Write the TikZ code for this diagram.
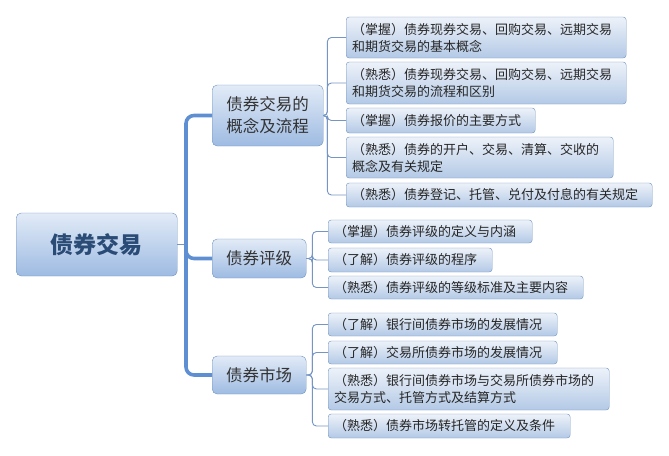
\documentclass[tikz,border=0pt]{standalone}
\usepackage{fontspec}
\setmainfont{Noto Sans CJK SC}
\usepackage{tikz}
\definecolor{boxline}{HTML}{6F92C0}
\definecolor{lighttop}{HTML}{EDF2F9}
\definecolor{lightbot}{HTML}{B3C9E6}
\definecolor{midtop}{HTML}{E2EBF7}
\definecolor{midbot}{HTML}{9EBBE2}
\definecolor{linecol}{HTML}{7596C4}
\definecolor{trunkcol}{HTML}{5E8FD2}
\definecolor{roottext}{HTML}{2A4B75}

\begin{document}
\begin{tikzpicture}[x=1pt,y=1pt,
  leaf/.style={draw=boxline, rounded corners=3pt, top color=lighttop, bottom color=lightbot,
    anchor=west, inner xsep=6pt, inner ysep=0pt, align=left, font=\fontsize{13}{17}\selectfont,
    text=black!85},
  topic/.style={draw=boxline, rounded corners=5pt, top color=midtop, bottom color=midbot,
    anchor=west, inner sep=0pt, align=center, font=\fontsize{16.5}{22}\selectfont, text=black!80},
  conn/.style={draw=linecol, line width=0.9pt, rounded corners=4pt},
  trunk/.style={draw=trunkcol, line width=3.6pt, rounded corners=8pt}]
\useasboundingbox (0,0) rectangle (669,-455);

\node[topic, minimum width=161pt, minimum height=63pt, font=\fontsize{23}{26}\selectfont\bfseries,
  text=roottext] (root) at (16,-244.5) {债券交易};

\node[topic, minimum width=111pt, minimum height=61pt] (gainian) at (212,-115.5) {债券交易的\\概念及流程};
\node[topic, minimum width=94pt, minimum height=39pt] (pingji) at (212,-258.5) {债券评级};
\node[topic, minimum width=94pt, minimum height=38pt] (shichang) at (212,-375) {债券市场};

\node[leaf, text width=268pt, minimum height=41pt] (ga) at (346,-37.5) {（掌握）债券现券交易、回购交易、远期交易\\和期货交易的基本概念};
\node[leaf, text width=268pt, minimum height=42pt] (gb) at (346,-83) {（熟悉）债券现券交易、回购交易、远期交易\\和期货交易的流程和区别};
\node[leaf, text width=177pt, minimum height=25pt] (gc) at (346,-120.5) {（掌握）债券报价的主要方式};
\node[leaf, text width=255pt, minimum height=41pt] (gd) at (346,-157.5) {（熟悉）债券的开户、交易、清算、交收的\\概念及有关规定};
\node[leaf, text width=294pt, minimum height=24pt] (ge) at (346,-195) {（熟悉）债券登记、托管、兑付及付息的有关规定};

\node[leaf, text width=192pt, minimum height=23pt] (pa) at (328,-231.5) {（掌握）债券评级的定义与内涵};
\node[leaf, text width=152pt, minimum height=24pt] (pb) at (328,-260) {（了解）债券评级的程序};
\node[leaf, text width=243pt, minimum height=23pt] (pc) at (328,-287.5) {（熟悉）债券评级的等级标准及主要内容};

\node[leaf, text width=217pt, minimum height=23pt] (sa) at (328,-324.5) {（了解）银行间债券市场的发展情况};
\node[leaf, text width=217pt, minimum height=23pt] (sb) at (328,-352.5) {（了解）交易所债券市场的发展情况};
\node[leaf, text width=269pt, minimum height=42pt] (sc) at (328,-389) {（熟悉）银行间债券市场与交易所债券市场的\\交易方式、托管方式及结算方式};
\node[leaf, text width=230pt, minimum height=24pt] (sd) at (328,-426) {（熟悉）债券市场转托管的定义及条件};

\coordinate (tk) at (186,-244.5);
\draw[conn] (root.east) -- (tk);
\draw[trunk] (gainian.west) -| (tk) |- (shichang.west);
\draw[trunk] (tk) |- (pingji.west);

\foreach \leafname in {ga,gb,gc,gd,ge}
  \draw[conn] (gainian.east) -- ++(4,0) |- (\leafname.west);
\foreach \leafname in {pa,pb,pc}
  \draw[conn] (pingji.east) -- ++(6,0) |- (\leafname.west);
\foreach \leafname in {sa,sb,sc,sd}
  \draw[conn] (shichang.east) -- ++(6,0) |- (\leafname.west);
\end{tikzpicture}
\end{document}
